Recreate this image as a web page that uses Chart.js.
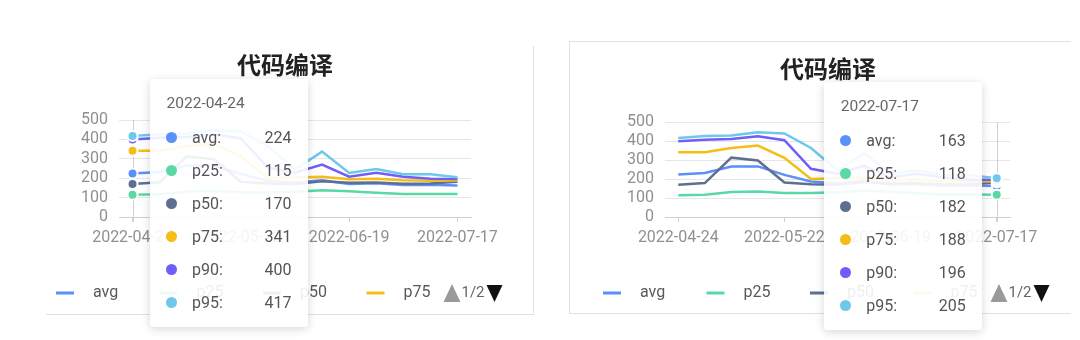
<!DOCTYPE html>
<html>
<head>
<meta charset="utf-8">
<script src="https://cdn.jsdelivr.net/npm/chart.js@4/dist/chart.umd.min.js"></script>
<style>
  body { margin: 0; width: 1080px; height: 340px; overflow: hidden; position: relative; background: #fff;
         font-family: Roboto, "Noto Sans CJK SC", sans-serif; }
  .frame { position: absolute; box-sizing: border-box; }
  #frameL { left: 46px; top: 46px; width: 488px; height: 269px;
            border-right: 1px solid #e1e1e1; border-bottom: 1px solid #e1e1e1; }
  #frameR { left: 569px; top: 41px; width: 502px; height: 273px;
            border: 1px solid #e1e1e1; border-right: none; }
  .panel { position: absolute; top: 0; height: 340px; }
  .panel canvas { display: block; }
  .tip { position: absolute; width: 158px; box-sizing: border-box; padding: 14px 0 8px;
         background: rgba(255, 255, 255, 0.9); border-radius: 4px;
         box-shadow: 0 2px 10px rgba(0, 0, 0, 0.16); pointer-events: none;
         color: #555; font-size: 16px; }
  .tip-title { line-height: 20px; padding-left: 17px; margin-bottom: 8px; color: #666; font-size: 15.5px; }
  .tip-row { display: flex; align-items: center; height: 33px; padding: 0 16px 0 16.5px; }
  .tip-dot { flex: none; width: 11px; height: 11px; border-radius: 50%; margin-right: 15px; }
  .tip-name { flex: 1; }
</style>
</head>
<body>
<div class="frame" id="frameL"></div>
<div class="frame" id="frameR"></div>
<div class="panel" style="left:0; width:545px;"><canvas id="chartL" width="545" height="340"></canvas></div>
<div class="panel" style="left:545px; width:535px;"><canvas id="chartR" width="535" height="340"></canvas></div>

<script>
// weekly build timings
const weeks = ['2022-04-24', '2022-05-01', '2022-05-08', '2022-05-15', '2022-05-22', '2022-05-29', '2022-06-05',
               '2022-06-12', '2022-06-19', '2022-06-26', '2022-07-03', '2022-07-10', '2022-07-17'];
const xTickLabels = ['2022-04-24', '2022-05-22', '2022-06-19', '2022-07-17'];
const yTicks = [0, 100, 200, 300, 400, 500];

const seriesNames = ['avg', 'p25', 'p50', 'p75', 'p90', 'p95'];
const avgValues = [224, 232, 266, 267, 222, 187, 178, 190, 170, 174, 165, 166, 163];
const p25Values = [115, 117, 132, 134, 127, 126, 130, 138, 133, 125, 119, 119, 118];
const p50Values = [170, 179, 313, 298, 182, 173, 170, 184, 177, 178, 172, 173, 182];
const p75Values = [341, 342, 364, 377, 312, 201, 204, 208, 194, 197, 190, 187, 188];
const p90Values = [400, 408, 412, 426, 405, 254, 228, 270, 208, 228, 207, 197, 196];
const p95Values = [417, 427, 430, 447, 441, 364, 245, 337, 227, 247, 220, 220, 205];
const seriesValues = [avgValues, p25Values, p50Values, p75Values, p90Values, p95Values];
const seriesColors = ['#5B8FF9', '#5AD8A6', '#5D7092', '#F6BD16', '#6F5EF9', '#6DC8EC'];

const chartTitle = '代码编译';

// per-card layout: left/right padding, y axis width, empty right gutter
const panels = [
    { id: 'chartL', hover: 0, padLeft: 40, yWidth: 79, padRight: 15, gutter: 59,
      titleTop: 50.6, titleGap: 40.6, tipTop: 79, legendX: 56 },
    { id: 'chartR', hover: 12, padLeft: 40, yWidth: 80, padRight: 9, gutter: 61,
      titleTop: 54, titleGap: 39.4, tipTop: 82, legendX: 58 }
];

Chart.defaults.font.family = 'Roboto, "Noto Sans CJK SC", sans-serif';
Chart.defaults.font.size = 16;

// vertical guide at the hovered week
const axisPointer = {
    id: 'axisPointer',
    beforeDatasetsDraw(chart, args, opts) {
        const ctx = chart.ctx;
        const x = Math.round(chart.scales.x.getPixelForValue(opts.index)) + 0.5;
        ctx.save();
        ctx.strokeStyle = '#cfcfcf';
        ctx.lineWidth = 1;
        ctx.beginPath();
        ctx.moveTo(x, chart.chartArea.top);
        ctx.lineTo(x, chart.chartArea.bottom + 5);
        ctx.stroke();
        ctx.restore();
    }
};

// legend showing the first page of series plus a pager
const pagedLegend = {
    id: 'pagedLegend',
    afterDatasetsDraw(chart, args, opts) {
        const ctx = chart.ctx;
        const datasets = chart.data.datasets;
        const pages = Math.ceil(datasets.length / opts.perPage);
        const y = opts.y;
        let x = opts.x;
        let textEnd = x;
        ctx.save();
        ctx.font = '16px Roboto, "Noto Sans CJK SC", sans-serif';
        ctx.textBaseline = 'middle';
        datasets.slice(0, opts.perPage).forEach(ds => {
            ctx.strokeStyle = ds.borderColor;
            ctx.lineWidth = 3;
            ctx.beginPath();
            ctx.moveTo(x, y);
            ctx.lineTo(x + 18, y);
            ctx.stroke();
            ctx.fillStyle = '#595959';
            ctx.fillText(ds.label, x + 37, y);
            textEnd = x + 37 + ctx.measureText(ds.label).width;
            x += opts.pitch;
        });

        let px = textEnd + 13;
        ctx.fillStyle = '#9a9a9a';
        ctx.beginPath();
        ctx.moveTo(px, y + 9);
        ctx.lineTo(px + 17, y + 9);
        ctx.lineTo(px + 8.5, y - 9);
        ctx.closePath();
        ctx.fill();
        px += 18;
        ctx.font = '15px Roboto, "Noto Sans CJK SC", sans-serif';
        ctx.fillStyle = '#666';
        const pageText = `1/${pages}`;
        ctx.fillText(pageText, px, y);
        px += ctx.measureText(pageText).width + 2;
        ctx.fillStyle = '#111';
        ctx.beginPath();
        ctx.moveTo(px, y - 8);
        ctx.lineTo(px + 16, y - 8);
        ctx.lineTo(px + 8, y + 9);
        ctx.closePath();
        ctx.fill();
        ctx.restore();
    }
};

function externalTip(context) {
    const { chart, tooltip } = context;
    const panel = panels.find(p => p.id === chart.canvas.id);
    let el = chart.canvas.parentNode.querySelector('.tip');
    if (!el) {
        el = document.createElement('div');
        el.className = 'tip';
        chart.canvas.parentNode.appendChild(el);
    }
    if (tooltip.opacity === 0) {
        el.style.opacity = 0;
        return;
    }
    const points = tooltip.dataPoints.slice().sort((a, b) => a.datasetIndex - b.datasetIndex);
    let html = `<div class="tip-title">${tooltip.title[0]}</div>`;
    points.forEach(p => {
        html += `<div class="tip-row"><span class="tip-dot" style="background:${p.dataset.borderColor}"></span>` +
                `<span class="tip-name">${p.dataset.label}:</span><span class="tip-val">${p.formattedValue}</span></div>`;
    });
    el.innerHTML = html;

    const w = 158;
    let left = tooltip.caretX + 17;
    if (left + w > chart.chartArea.right + 20) {
        left = tooltip.caretX - 15 - w;
    }
    el.style.opacity = 1;
    el.style.left = left + 'px';
    el.style.top = panel.tipTop + 'px';
}

function createPanel(panel) {
    const datasets = seriesNames.map((name, i) => ({
        label: name,
        data: seriesValues[i],
        borderColor: seriesColors[i],
        backgroundColor: seriesColors[i],
        borderWidth: 2.5,
        tension: 0,
        pointRadius: 0,
        pointHoverRadius: 5,
        pointHoverBorderWidth: 2,
        pointHoverBorderColor: '#fff',
        pointHoverBackgroundColor: seriesColors[i],
        order: seriesNames.length - 1 - i
    }));

    const chart = new Chart(document.getElementById(panel.id), {
        type: 'line',
        data: { labels: weeks, datasets: datasets },
        plugins: [axisPointer, pagedLegend],
        options: {
            responsive: false,
            animation: false,
            events: [],
            layout: {
                padding: { left: panel.padLeft, right: panel.padRight, top: 0, bottom: 93 }
            },
            scales: {
                x: {
                    offset: true,
                    afterFit(scale) { scale.height = 30; },
                    border: { display: true, color: '#d0d0d0' },
                    grid: {
                        drawOnChartArea: false,
                        drawTicks: true,
                        tickLength: 5,
                        tickColor: ctx => xTickLabels.includes(weeks[ctx.index]) ? '#d0d0d0' : 'rgba(0,0,0,0)'
                    },
                    ticks: {
                        autoSkip: false,
                        maxRotation: 0,
                        minRotation: 0,
                        padding: 6,
                        color: '#909090',
                        callback: (value, index) => xTickLabels.includes(weeks[index]) ? weeks[index] : ''
                    }
                },
                y: {
                    min: yTicks[0],
                    max: yTicks[yTicks.length - 1],
                    afterFit(scale) { scale.width = panel.yWidth; },
                    afterBuildTicks(scale) { scale.ticks = yTicks.map(v => ({ value: v })); },
                    border: { display: false },
                    grid: { color: '#e6e6e6', drawTicks: false },
                    ticks: { autoSkip: false, padding: 11, color: '#909090' }
                },
                // empty gutter on the right of the plot
                gutter: {
                    type: 'linear',
                    position: 'right',
                    afterFit(scale) { scale.width = panel.gutter; },
                    border: { display: false },
                    grid: { display: false },
                    ticks: { display: false }
                }
            },
            plugins: {
                title: {
                    display: true,
                    text: chartTitle,
                    color: '#222',
                    font: { size: 24, weight: 'bold', family: '"Noto Sans CJK SC", sans-serif' },
                    padding: { top: panel.titleTop, bottom: panel.titleGap }
                },
                legend: { display: false },
                tooltip: {
                    enabled: false,
                    mode: 'index',
                    intersect: false,
                    external: externalTip
                },
                axisPointer: { index: panel.hover },
                pagedLegend: { x: panel.legendX, y: 293, pitch: 103.5, perPage: 4 }
            }
        }
    });

    const active = seriesNames.map((_, i) => ({ datasetIndex: i, index: panel.hover }));
    chart.setActiveElements(active);
    chart.update('none');
    chart.tooltip.setActiveElements(active, { x: 0, y: 0 });
    return chart;
}

panels.forEach(createPanel);
</script>
</body>
</html>
